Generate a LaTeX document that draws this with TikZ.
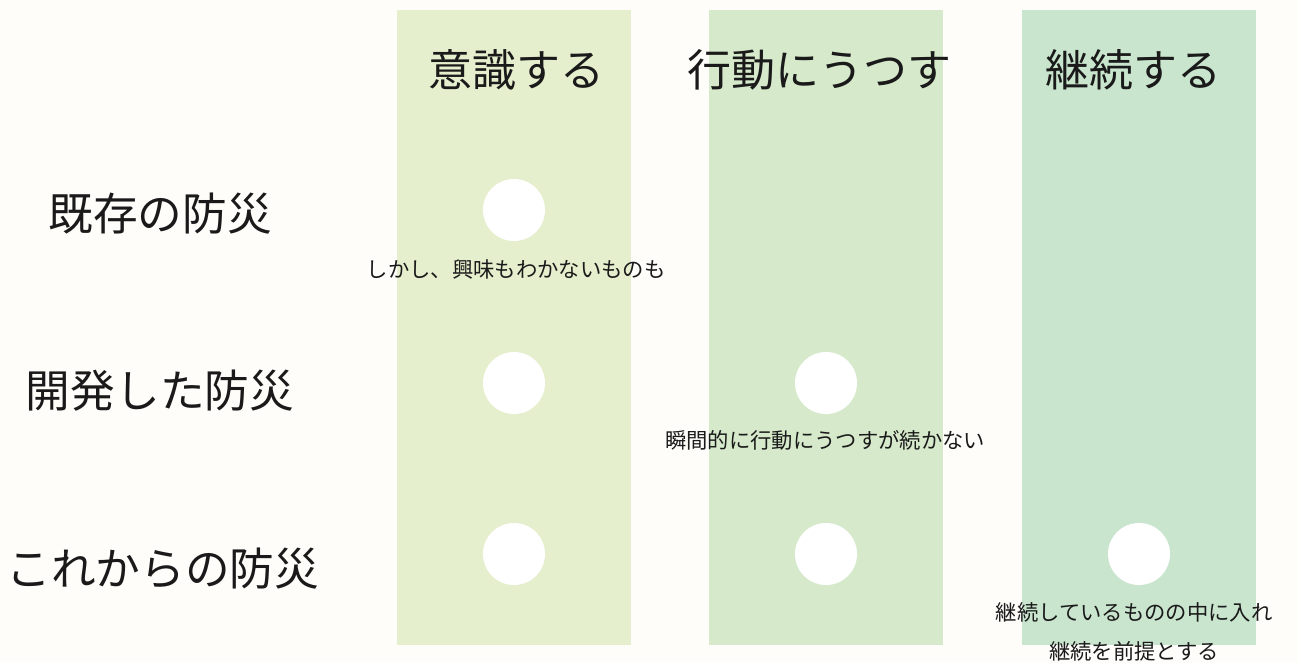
\documentclass[tikz,border=0pt]{standalone}
\usepackage{fontspec}
\setmainfont{Noto Sans CJK JP}
\newfontfamily\jp{Noto Sans CJK JP}
\definecolor{bgc}{HTML}{FEFDFA}
\definecolor{colA}{HTML}{E6EFCD}
\definecolor{colB}{HTML}{D6EACB}
\definecolor{colC}{HTML}{C9E5CE}
\definecolor{txt}{HTML}{1A1A1A}
\begin{document}
\begin{tikzpicture}[x=0.75pt,y=-0.75pt,
  colbox/.style={draw=none,inner sep=0pt,minimum width=234*0.75pt,minimum height=635*0.75pt},
  dot/.style={circle,fill=white,draw=none,minimum size=62*0.75pt,inner sep=0pt},
  head/.style={font=\jp\fontsize{33}{38}\selectfont,text=txt,inner sep=0pt},
  rowlab/.style={font=\jp\fontsize{33.5}{38}\selectfont,text=txt,inner sep=0pt},
  note/.style={font=\jp\fontsize{16}{21}\selectfont,text=txt,inner sep=0pt,align=center}]
\fill[bgc] (0,0) rectangle (1298,663);
\useasboundingbox (0,0) rectangle (1298,663);
\node[colbox,fill=colA] (c1) at (514,327.5) {};
\node[colbox,fill=colB] (c2) at (826,327.5) {};
\node[colbox,fill=colC] (c3) at (1138.5,327.5) {};
\node[head] (h1) at (516,70) {意識する};
\node[head] (h2) at (819,70) {行動にうつす};
\node[head] (h3) at (1133,70) {継続する};
\node[rowlab] (r1) at (160,214) {既存の防災};
\node[rowlab] (r2) at (160,391) {開発した防災};
\node[rowlab] (r3) at (163,569) {これからの防災};
\node[dot] (d11) at (514,210) {};
\node[dot] (d21) at (514,383) {};
\node[dot] (d22) at (826,383) {};
\node[dot] (d31) at (514,554) {};
\node[dot] (d32) at (826,554) {};
\node[dot] (d33) at (1139,554) {};
\node[note] (n1) at (516,269) {しかし、興味もわかないものも};
\node[note] (n2) at (825,440) {瞬間的に行動にうつすが続かない};
\node[note] (n3) at (1134,612) {継続しているものの中に入れ};
\node[note] (n4) at (1134,651) {継続を前提とする};
\end{tikzpicture}
\end{document}
